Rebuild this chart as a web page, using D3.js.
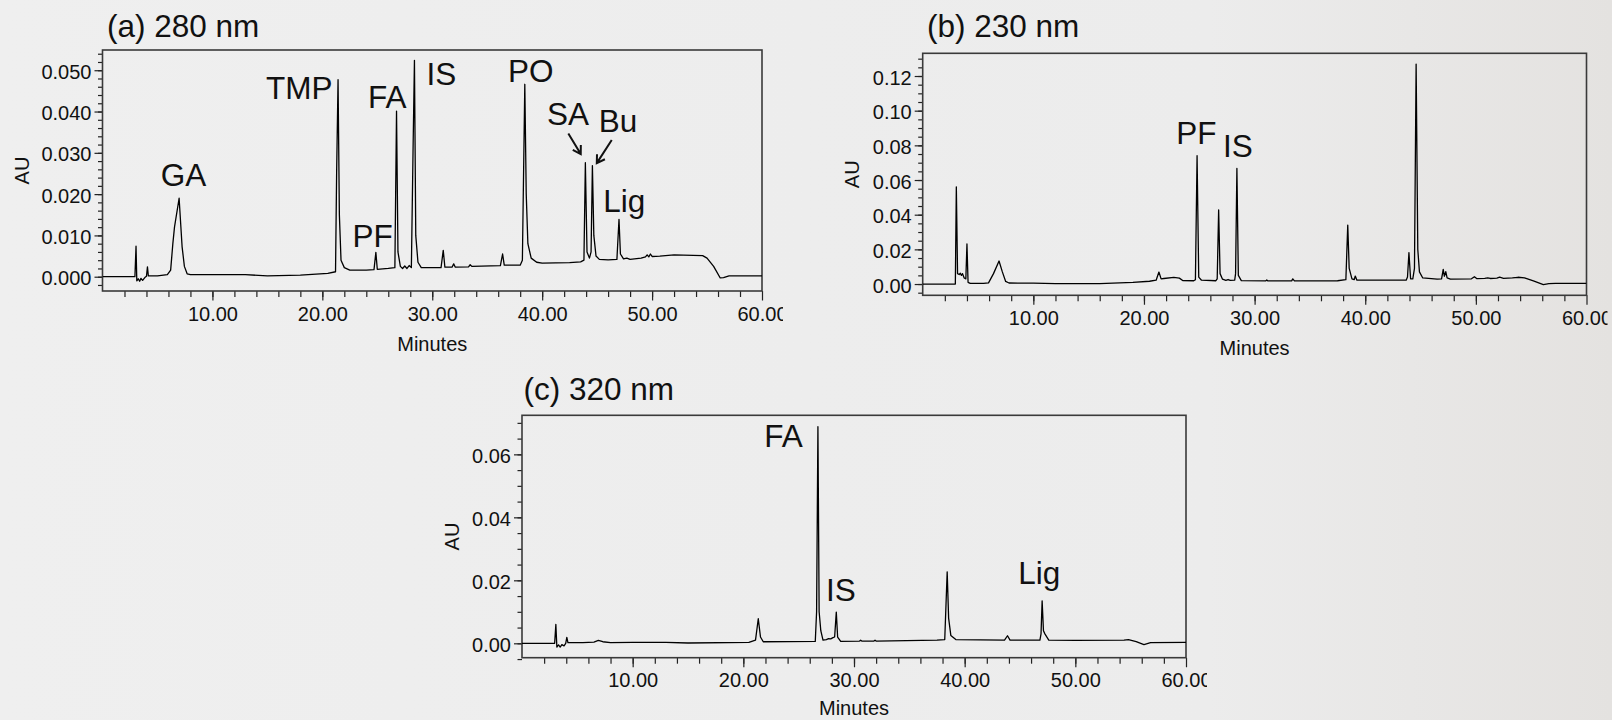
<!DOCTYPE html>
<html>
<head>
<meta charset="utf-8">
<script src="https://cdn.jsdelivr.net/npm/d3@7"></script>
<style>
  body { margin: 0; background: #eeeeee; }
  svg { display: block; }
  text { font-family: "Liberation Sans", Arial, sans-serif; fill: #111; }
</style>
</head>
<body>
<svg id="chart" width="1612" height="720"></svg>
<script>
// x axis labels (minutes), shared by the three chromatograms
let minuteTicks = [10, 20, 30, 40, 50, 60]

// y axis labels (AU)
let yTicksA = [0, 0.01, 0.02, 0.03, 0.04, 0.05]
let yTicksB = [0, 0.02, 0.04, 0.06, 0.08, 0.10, 0.12]
let yTicksC = [0, 0.02, 0.04, 0.06]

// traces: [minutes, AU]
let traceA = [
    [0, 0], [2.95, 0], [3.05, 0.0074], [3.12, -0.0010], [3.25, -0.0005], [3.38, -0.0011], [3.5, -0.0004],
    [3.65, -0.0009], [3.85, -0.0002], [4.0, 0.0001], [4.09, 0.0024], [4.17, 0.0002], [5.0, 0.0002],
    [5.9, 0.0005], [6.2, 0.0016], [6.4, 0.0080], [6.55, 0.0120], [6.97, 0.0190], [7.24, 0.0073],
    [7.45, 0.0025], [7.7, 0.0007], [8.0, 0.0005], [10, 0.0005], [13, 0.0005], [15, 0.0002],
    [18, 0.0004], [20.5, 0.0008], [21.2, 0.0012], [21.3, 0.0250], [21.43, 0.0477], [21.55, 0.0150],
    [21.7, 0.0040], [22.0, 0.0022], [22.5, 0.0016], [24.0, 0.0016], [24.7, 0.0017], [24.87, 0.0059],
    [25.0, 0.0018], [26.0, 0.0020], [26.6, 0.0022], [26.75, 0.0401], [26.88, 0.0060], [27.1, 0.0025],
    [27.3, 0.0020], [27.5, 0.0026], [27.7, 0.0020], [27.9, 0.0027], [28.1, 0.0022], [28.25, 0.0300],
    [28.38, 0.0524], [28.5, 0.0100], [28.7, 0.0035], [29.0, 0.0022], [30.8, 0.0022], [31.0, 0.0064],
    [31.15, 0.0023], [31.8, 0.0023], [31.95, 0.0031], [32.1, 0.0023], [33.3, 0.0024], [33.45, 0.0029],
    [33.6, 0.0025], [36.2, 0.0027], [36.4, 0.0055], [36.55, 0.0028], [38.0, 0.0028], [38.2, 0.0040],
    [38.42, 0.0466], [38.55, 0.0200], [38.7, 0.0080], [39.0, 0.0045], [39.5, 0.0035], [40, 0.0033],
    [42.5, 0.0034], [43.5, 0.0036], [43.8, 0.0040], [43.93, 0.0276], [44.08, 0.0060], [44.3, 0.0045],
    [44.45, 0.0060], [44.57, 0.0269], [44.7, 0.0100], [44.9, 0.0050], [45.2, 0.0042], [46.0, 0.0041],
    [46.8, 0.0042], [46.99, 0.0139], [47.12, 0.0055], [47.4, 0.0043], [47.7, 0.0045], [48.0, 0.0042],
    [49.0, 0.0045], [49.4, 0.0048], [49.55, 0.0053], [49.7, 0.0048], [49.85, 0.0055], [50.0, 0.0049],
    [50.7, 0.0050], [52.0, 0.0053], [54.6, 0.0051], [55.0, 0.0045], [55.6, 0.0025], [56.2, -0.0003],
    [56.5, -0.0002], [57.0, 0.0002], [60, 0.0002]
]
let traceB = [
    [0, 0], [2.95, 0], [3.04, 0.0561], [3.15, 0.0060], [3.3, 0.0055], [3.4, 0.0062], [3.5, 0.0050],
    [3.6, 0.0060], [3.75, 0.0035], [3.9, 0.0030], [4.0, 0.0231], [4.1, 0.0010], [4.3, 0.0004],
    [5.5, 0.0004], [5.95, 0.0007], [6.4, 0.0060], [6.9, 0.0133], [7.2, 0.0070], [7.5, 0.0015],
    [7.8, 0.0006], [10, 0.0005], [12, 0.0002], [16, 0.0002], [19, 0.0009], [20.5, 0.0016],
    [21.1, 0.0022], [21.35, 0.0069], [21.55, 0.0030], [21.8, 0.0032], [22.7, 0.0038], [23.2, 0.0034],
    [23.5, 0.0020], [24.5, 0.0019], [24.65, 0.0025], [24.8, 0.0740], [24.95, 0.0040], [25.2, 0.0022],
    [26.5, 0.0019], [26.62, 0.0030], [26.75, 0.0427], [26.88, 0.0060], [27.1, 0.0028], [27.4, 0.0021],
    [27.6, 0.0026], [27.8, 0.0021], [28.2, 0.0022], [28.28, 0.0060], [28.4, 0.0667], [28.53, 0.0050],
    [28.8, 0.0020], [31.0, 0.0018], [31.1, 0.0024], [31.2, 0.0018], [33.35, 0.0018], [33.45, 0.0030],
    [33.6, 0.0018], [37.5, 0.0019], [38.25, 0.0025], [38.42, 0.0340], [38.55, 0.0090], [38.8, 0.0030],
    [39.0, 0.0025], [39.1, 0.0046], [39.25, 0.0022], [43.7, 0.0022], [43.82, 0.0040], [43.95, 0.0181],
    [44.1, 0.0030], [44.3, 0.0030], [44.45, 0.0090], [44.6, 0.1269], [44.75, 0.0200], [44.9, 0.0070],
    [45.2, 0.0035], [46.5, 0.0028], [46.9, 0.0030], [47.05, 0.0085], [47.15, 0.0045], [47.28, 0.0071],
    [47.4, 0.0035], [47.7, 0.0028], [49.6, 0.0030], [49.87, 0.0042], [50.1, 0.0031], [50.8, 0.0033],
    [51.07, 0.0036], [51.3, 0.0032], [51.9, 0.0034], [52.15, 0.0040], [52.5, 0.0033], [53.3, 0.0035],
    [53.8, 0.0039], [54.4, 0.0035], [55.2, 0.0018], [56.1, -0.0003], [56.6, 0.0002], [57.2, 0.0004],
    [60, 0.0004]
]
let traceC = [
    [0, 0], [2.95, 0], [3.06, 0.0060], [3.15, -0.0012], [3.3, -0.0005], [3.45, -0.0012], [3.6, -0.0004],
    [3.8, -0.0008], [3.95, 0.0000], [4.05, 0.0019], [4.15, 0.0002], [5.5, 0.0002], [6.5, 0.0004],
    [6.9, 0.0009], [7.3, 0.0005], [8.0, 0.0002], [10, 0.0003], [13, 0.0003], [15, 0.0001],
    [20.5, 0.0003], [21.1, 0.0010], [21.35, 0.0078], [21.55, 0.0020], [21.8, 0.0005], [26.5, 0.0006],
    [26.62, 0.0100], [26.74, 0.0688], [26.85, 0.0100], [27.0, 0.0040], [27.2, 0.0010], [27.5, 0.0012],
    [27.7, 0.0015], [27.9, 0.0014], [28.1, 0.0018], [28.25, 0.0020], [28.4, 0.0099], [28.52, 0.0020],
    [28.8, 0.0006], [30.5, 0.0007], [30.6, 0.0010], [30.7, 0.0007], [31.8, 0.0007], [31.9, 0.0010],
    [32.0, 0.0007], [37.5, 0.0010], [38.2, 0.0012], [38.42, 0.0227], [38.55, 0.0080], [38.75, 0.0025],
    [39.2, 0.0012], [43.6, 0.0010], [43.87, 0.0024], [44.1, 0.0010], [46.8, 0.0010], [46.9, 0.0030],
    [47.0, 0.0135], [47.12, 0.0040], [47.25, 0.0030], [47.6, 0.0010], [50, 0.0009], [54.4, 0.0010],
    [54.8, 0.0012], [55.5, 0.0005], [56.2, -0.0004], [56.8, 0.0002], [60, 0.0003]
]

// peak names: [name, minutes, AU] (text centre / baseline)
let peakLabelsA = [
    ['GA', 7.37, 0.0220], ['TMP', 17.9, 0.0430], ['PF', 24.58, 0.0072], ['FA', 25.9, 0.0408],
    ['IS', 30.83, 0.0464], ['PO', 38.97, 0.0472], ['SA', 42.36, 0.0367], ['Bu', 46.89, 0.0350],
    ['Lig', 47.46, 0.0157]
]
let peakLabelsB = [['PF', 24.74, 0.0808], ['IS', 28.48, 0.0734]]
let peakLabelsC = [['FA', 23.64, 0.0622], ['IS', 28.81, 0.0135], ['Lig', 46.75, 0.0187]]

// arrows in (a): [fromMin, fromAU, toMin, toAU]
let arrowsA = [
    [42.38, 0.0347, 43.51, 0.0297],
    [46.33, 0.0331, 44.97, 0.0275]
]

const svg = d3.select('#chart')

let defs = svg.append('defs')
let bg = defs.append('linearGradient').attr('id', 'bg').attr('x1', 0).attr('x2', 1).attr('y1', 0).attr('y2', 0)
bg.append('stop').attr('offset', '0%').attr('stop-color', '#efefef')
bg.append('stop').attr('offset', '75%').attr('stop-color', '#ececec')
bg.append('stop').attr('offset', '100%').attr('stop-color', '#e4e2e0')
svg.append('rect').attr('width', 1612).attr('height', 720).attr('fill', 'url(#bg)')

function drawPanel(cfg, trace, yTicks, labels, arrows) {
    let x = d3.scaleLinear().domain([0, 60]).range([cfg.left, cfg.right])
    let y = d3.scaleLinear().domain(cfg.yDomain).range([cfg.bottom, cfg.top])
    let g = svg.append('g')

    defs.append('clipPath').attr('id', 'plot' + cfg.id)
        .append('rect').attr('x', cfg.left).attr('y', cfg.top)
        .attr('width', cfg.right - cfg.left).attr('height', cfg.bottom - cfg.top)
    // x labels group is translated to the bottom, so this box is in its local space
    defs.append('clipPath').attr('id', 'xl' + cfg.id)
        .append('rect').attr('x', cfg.left - 60).attr('y', -2)
        .attr('width', cfg.right - cfg.left + 60 + 21).attr('height', 60)

    // minor ticks
    let yMinor = d3.range(cfg.minorFrom, cfg.yDomain[1], cfg.minorStep).map(v => +v.toFixed(4))
    g.append('g').attr('transform', `translate(${cfg.left},0)`)
        .call(d3.axisLeft(y).tickValues(yMinor).tickSize(4.5).tickFormat(''))
        .call(a => a.select('.domain').remove())
    let xMinor = d3.range(2, 60, 2)
    g.append('g').attr('transform', `translate(0,${cfg.bottom})`)
        .call(d3.axisBottom(x).tickValues(xMinor).tickSize(6).tickFormat(''))
        .call(a => a.select('.domain').remove())

    // major ticks with labels
    let ya = g.append('g').attr('transform', `translate(${cfg.left},0)`)
        .call(d3.axisLeft(y).tickValues(yTicks).tickSize(8).tickPadding(3).tickFormat(d3.format(cfg.fmt)))
    ya.select('.domain').remove()
    ya.selectAll('text').attr('font-size', 20).attr('dy', '0.4em').style('font-family', 'Liberation Sans, Arial, sans-serif').attr('fill', '#111')

    let xa = g.append('g').attr('transform', `translate(0,${cfg.bottom})`)
        .attr('clip-path', `url(#xl${cfg.id})`)
        .call(d3.axisBottom(x).tickValues(minuteTicks).tickSize(9.5).tickPadding(6).tickFormat(d3.format('.2f')))
    xa.select('.domain').remove()
    xa.selectAll('text').attr('font-size', 20).style('font-family', 'Liberation Sans, Arial, sans-serif').attr('fill', '#111')
    g.selectAll('.tick line').attr('stroke', '#222').attr('stroke-width', 1.2)

    // frame
    g.append('rect').attr('x', cfg.left).attr('y', cfg.top)
        .attr('width', cfg.right - cfg.left).attr('height', cfg.bottom - cfg.top)
        .attr('fill', 'none').attr('stroke', '#3a3a3a').attr('stroke-width', 1.6)

    // chromatogram
    let line = d3.line().x(d => x(d[0])).y(d => y(d[1]))
    g.append('path').datum(trace)
        .attr('clip-path', `url(#plot${cfg.id})`)
        .attr('d', line).attr('fill', 'none').attr('stroke', '#000').attr('stroke-width', 1.3)
        .attr('stroke-linejoin', 'round')

    // peak names
    g.selectAll('text.peak').data(labels).enter()
        .append('text').attr('class', 'peak')
        .attr('x', d => x(d[1])).attr('y', d => y(d[2]))
        .attr('text-anchor', 'middle').attr('font-size', 31.5)
        .text(d => d[0])

    // arrows
    arrows.forEach(a => {
        let x1 = x(a[0]), y1 = y(a[1]), x2 = x(a[2]), y2 = y(a[3])
        let ang = Math.atan2(y2 - y1, x2 - x1)
        let h = 9, spread = 0.55
        let p = `M${x1},${y1}L${x2},${y2}` +
            `M${x2 - h * Math.cos(ang - spread)},${y2 - h * Math.sin(ang - spread)}L${x2},${y2}` +
            `L${x2 - h * Math.cos(ang + spread)},${y2 - h * Math.sin(ang + spread)}`
        g.append('path').attr('d', p).attr('fill', 'none').attr('stroke', '#111').attr('stroke-width', 2)
    })

    // titles
    g.append('text').attr('x', cfg.titleX).attr('y', cfg.titleY).attr('font-size', 31.5).text(cfg.title)
    g.append('text').attr('x', (cfg.left + cfg.right) / 2).attr('y', Math.min(cfg.bottom + 60, 715))
        .attr('text-anchor', 'middle').attr('font-size', 20).text('Minutes')
    g.append('text')
        .attr('transform', `translate(${cfg.left - cfg.auOffset},${(cfg.top + cfg.bottom) / 2}) rotate(-90)`)
        .attr('text-anchor', 'middle').attr('dy', '0.35em').attr('font-size', 20).text('AU')
}

drawPanel({
    id: 'a', left: 102.5, right: 762, top: 50, bottom: 291, yDomain: [-0.00346, 0.0549],
    minorFrom: -0.002, minorStep: 0.002, fmt: '.3f', title: '(a) 280 nm', titleX: 107, titleY: 37, auOffset: 81
}, traceA, yTicksA, peakLabelsA, arrowsA)

drawPanel({
    id: 'b', left: 922.7, right: 1586.5, top: 53.3, bottom: 295.3, yDomain: [-0.0065, 0.1331],
    minorFrom: -0.005, minorStep: 0.005, fmt: '.2f', title: '(b) 230 nm', titleX: 927, titleY: 36.7, auOffset: 71
}, traceB, yTicksB, peakLabelsB, [])

drawPanel({
    id: 'c', left: 522, right: 1186, top: 415.3, bottom: 657.7, yDomain: [-0.00457, 0.0724],
    minorFrom: -0.005, minorStep: 0.005, fmt: '.2f', title: '(c) 320 nm', titleX: 523.5, titleY: 400, auOffset: 70
}, traceC, yTicksC, peakLabelsC, [])
</script>
</body>
</html>
